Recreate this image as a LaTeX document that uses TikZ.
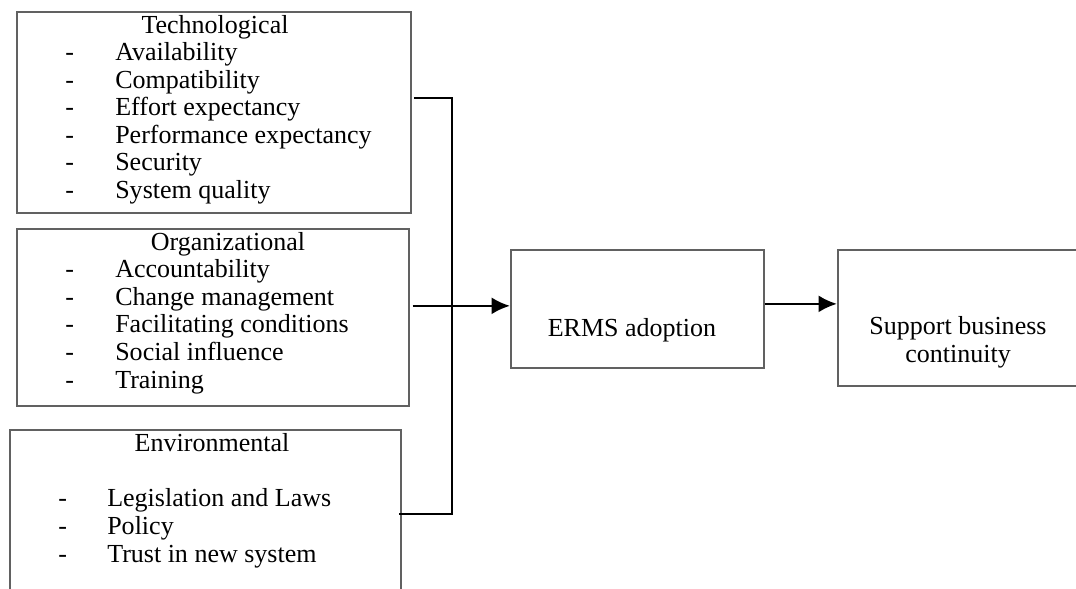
\documentclass[tikz,border=0pt]{standalone}
\usepackage{fontspec}
\setmainfont{Liberation Serif}
\usetikzlibrary{positioning, calc}
\usetikzlibrary{arrows.meta}
\tikzstyle{factorbox}=[rectangle,draw=black!62,line width=1.1pt,
anchor=north west,inner sep=0pt]
\tikzstyle{headtext}=[anchor=base,inner sep=0pt]
\tikzstyle{itemtext}=[anchor=base west,inner sep=0pt]
\tikzstyle{linkpath}=[line width=1.8pt,draw=black]
\tikzstyle{edgepath}=[linkpath,-{Latex[length=13pt,width=12pt]}]
\def \rowstep {27.5}

\begin{document}
\begin{tikzpicture}[x=0.025cm,y=-0.025cm,font=\fontsize{18.5}{19.55}\selectfont]
    \useasboundingbox (0,0) rectangle (1076,588);
    \clip (0,0) rectangle (1076,588);

    % factor boxes
    \node[factorbox, minimum width=9.85cm, minimum height=5.025cm] (tech) at (16,11) {};
    \node[factorbox, minimum width=9.8cm, minimum height=4.425cm] (org) at (16,228) {};
    \node[factorbox, minimum width=9.775cm, minimum height=4.275cm] (env) at (9,429) {};

    \node[headtext] (techhead) at (215,33) {Technological};
    \foreach \factor [count=\i] in {Availability, Compatibility, Effort expectancy,
        Performance expectancy, Security, System quality} {
        \node[itemtext] (tdash\i) at (65, 33+\rowstep*\i) {-};
        \node[itemtext] (titem\i) at (115, 33+\rowstep*\i) {\factor};
    }

    \node[headtext] (orghead) at (228,250) {Organizational};
    \foreach \factor [count=\i] in {Accountability, Change management,
        Facilitating conditions, Social influence, Training} {
        \node[itemtext] (odash\i) at (65, 250+27.6*\i) {-};
        \node[itemtext] (oitem\i) at (115, 250+27.6*\i) {\factor};
    }

    \node[headtext] (envhead) at (212,451) {Environmental};
    \foreach \factor [count=\i] in {Legislation and Laws, Policy, Trust in new system} {
        \node[itemtext] (edash\i) at (58, 478+28*\i) {-};
        \node[itemtext] (eitem\i) at (107, 478+28*\i) {\factor};
    }

    % outcome boxes
    \node[factorbox, minimum width=6.325cm, minimum height=2.95cm] (erms) at (510,249) {};
    \node[headtext] (ermstext) at (632,336) {ERMS adoption};
    \node[factorbox, minimum width=6.2cm, minimum height=3.4cm] (support) at (837,249) {};
    \node[headtext] (supporttext1) at (958,334) {Support business};
    \node[headtext] (supporttext2) at (958,362) {continuity};

    % connectors
    \coordinate (techout) at ([xshift=1.5pt, yshift=10.3pt]tech.east);
    \coordinate (orgout) at ([xshift=2.1pt, yshift=8.15pt]org.east);
    \coordinate (envout) at ([xshift=-2.1pt, yshift=1pt]env.east);
    \coordinate (bus) at (452,305);

    \draw[linkpath] (techout) -| (bus) |- (envout);
    \draw[edgepath] (orgout) -- (orgout -| erms.west);
    \draw[edgepath]
        ([yshift=3.5pt]erms.east) -- ([yshift=3.5pt]erms.east -| support.west);
\end{tikzpicture}
\end{document}
